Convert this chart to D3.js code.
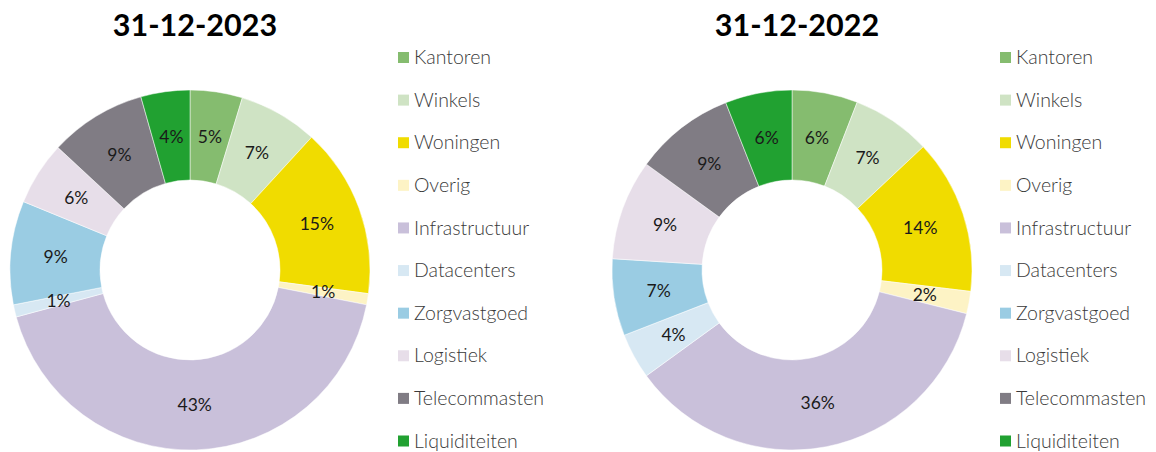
<!DOCTYPE html>
<html>
  <head>
    <meta charset="utf-8">
    <title>Vastgoedportefeuille donuts</title>
    <style>
      body { margin: 0; background: #fff; }
      .chart { font-family: Lato, "Open Sans", sans-serif; }
      .title { font-size: 30.5px; font-weight: bold; fill: #000; }
      .slice-label { font-size: 17.5px; fill: #1a1a1a; }
      .legend text { font-size: 19.5px; font-weight: 300; fill: #3a3a3a; }
    </style>
  </head>
  <body>
    <div class="chart"></div>

    <script src="https://d3js.org/d3.v7.min.js"></script>
    <script>
      // Chart data
      var categories = ["Kantoren", "Winkels", "Woningen", "Overig", "Infrastructuur",
                        "Datacenters", "Zorgvastgoed", "Logistiek", "Telecommasten", "Liquiditeiten"];
      var colors = ["#85bc6f", "#cfe3c4", "#f0dc00", "#fdf3c5", "#c9c0da",
                    "#d7e8f3", "#9acce3", "#e7dee9", "#807c84", "#21a131"];
      var titles = ["31-12-2023", "31-12-2022"];
      var values2023 = [4.7, 7.1, 15.3, 1.0, 42.7, 1.1, 9.3, 5.7, 8.7, 4.4];
      var values2022 = [5.9, 7.1, 13.9, 2.0, 36.1, 4.1, 6.9, 9.0, 9.0, 6.0];

      var width = 1156, height = 452;
      var outerR = 180, innerR = 90;

      var svg = d3.select(".chart").append("svg")
        .attr("width", width)
        .attr("height", height);

      var pie = d3.pie().sort(null).value(function(d) { return d; });
      var arc = d3.arc().innerRadius(innerR).outerRadius(outerR);
      var color = d3.scaleOrdinal().domain(categories).range(colors);

      // one panel per date: donut + legend
      var panels = [
        {title: titles[0], values: values2023, cx: 190, legendX: 398},
        {title: titles[1], values: values2022, cx: 792, legendX: 1000}
      ];

      panels.forEach(function(p) {
        var g = svg.append("g");

        g.append("text")
          .attr("class", "title")
          .attr("x", p.cx + 5)
          .attr("y", 36)
          .attr("text-anchor", "middle")
          .text(p.title);

        var donut = g.append("g")
          .attr("transform", "translate(" + p.cx + ",270)");

        var arcs = pie(p.values);

        donut.selectAll("path")
          .data(arcs)
          .enter().append("path")
          .attr("d", arc)
          .attr("fill", function(d, i) { return color(categories[i]); })
          .attr("stroke", "#fff")
          .attr("stroke-width", 0.5);

        donut.selectAll(".slice-label")
          .data(arcs)
          .enter().append("text")
          .attr("class", "slice-label")
          .attr("transform", function(d) { return "translate(" + arc.centroid(d) + ")"; })
          .attr("text-anchor", "middle")
          .attr("dy", "0.36em")
          .text(function(d) { return Math.round(d.data) + "%"; });

        // legend
        var legendY = d3.scalePoint().domain(categories).range([57.5, 441]);
        var legend = g.append("g").attr("class", "legend");
        var items = legend.selectAll("g")
          .data(categories)
          .enter().append("g")
          .attr("transform", function(d) { return "translate(" + p.legendX + "," + legendY(d) + ")"; });

        items.append("rect")
          .attr("x", 0)
          .attr("y", -5.5)
          .attr("width", 11)
          .attr("height", 11)
          .attr("fill", function(d) { return color(d); });

        items.append("text")
          .attr("x", 16)
          .attr("dy", "0.34em")
          .text(function(d) { return d; });
      });
    </script>
  </body>
</html>
